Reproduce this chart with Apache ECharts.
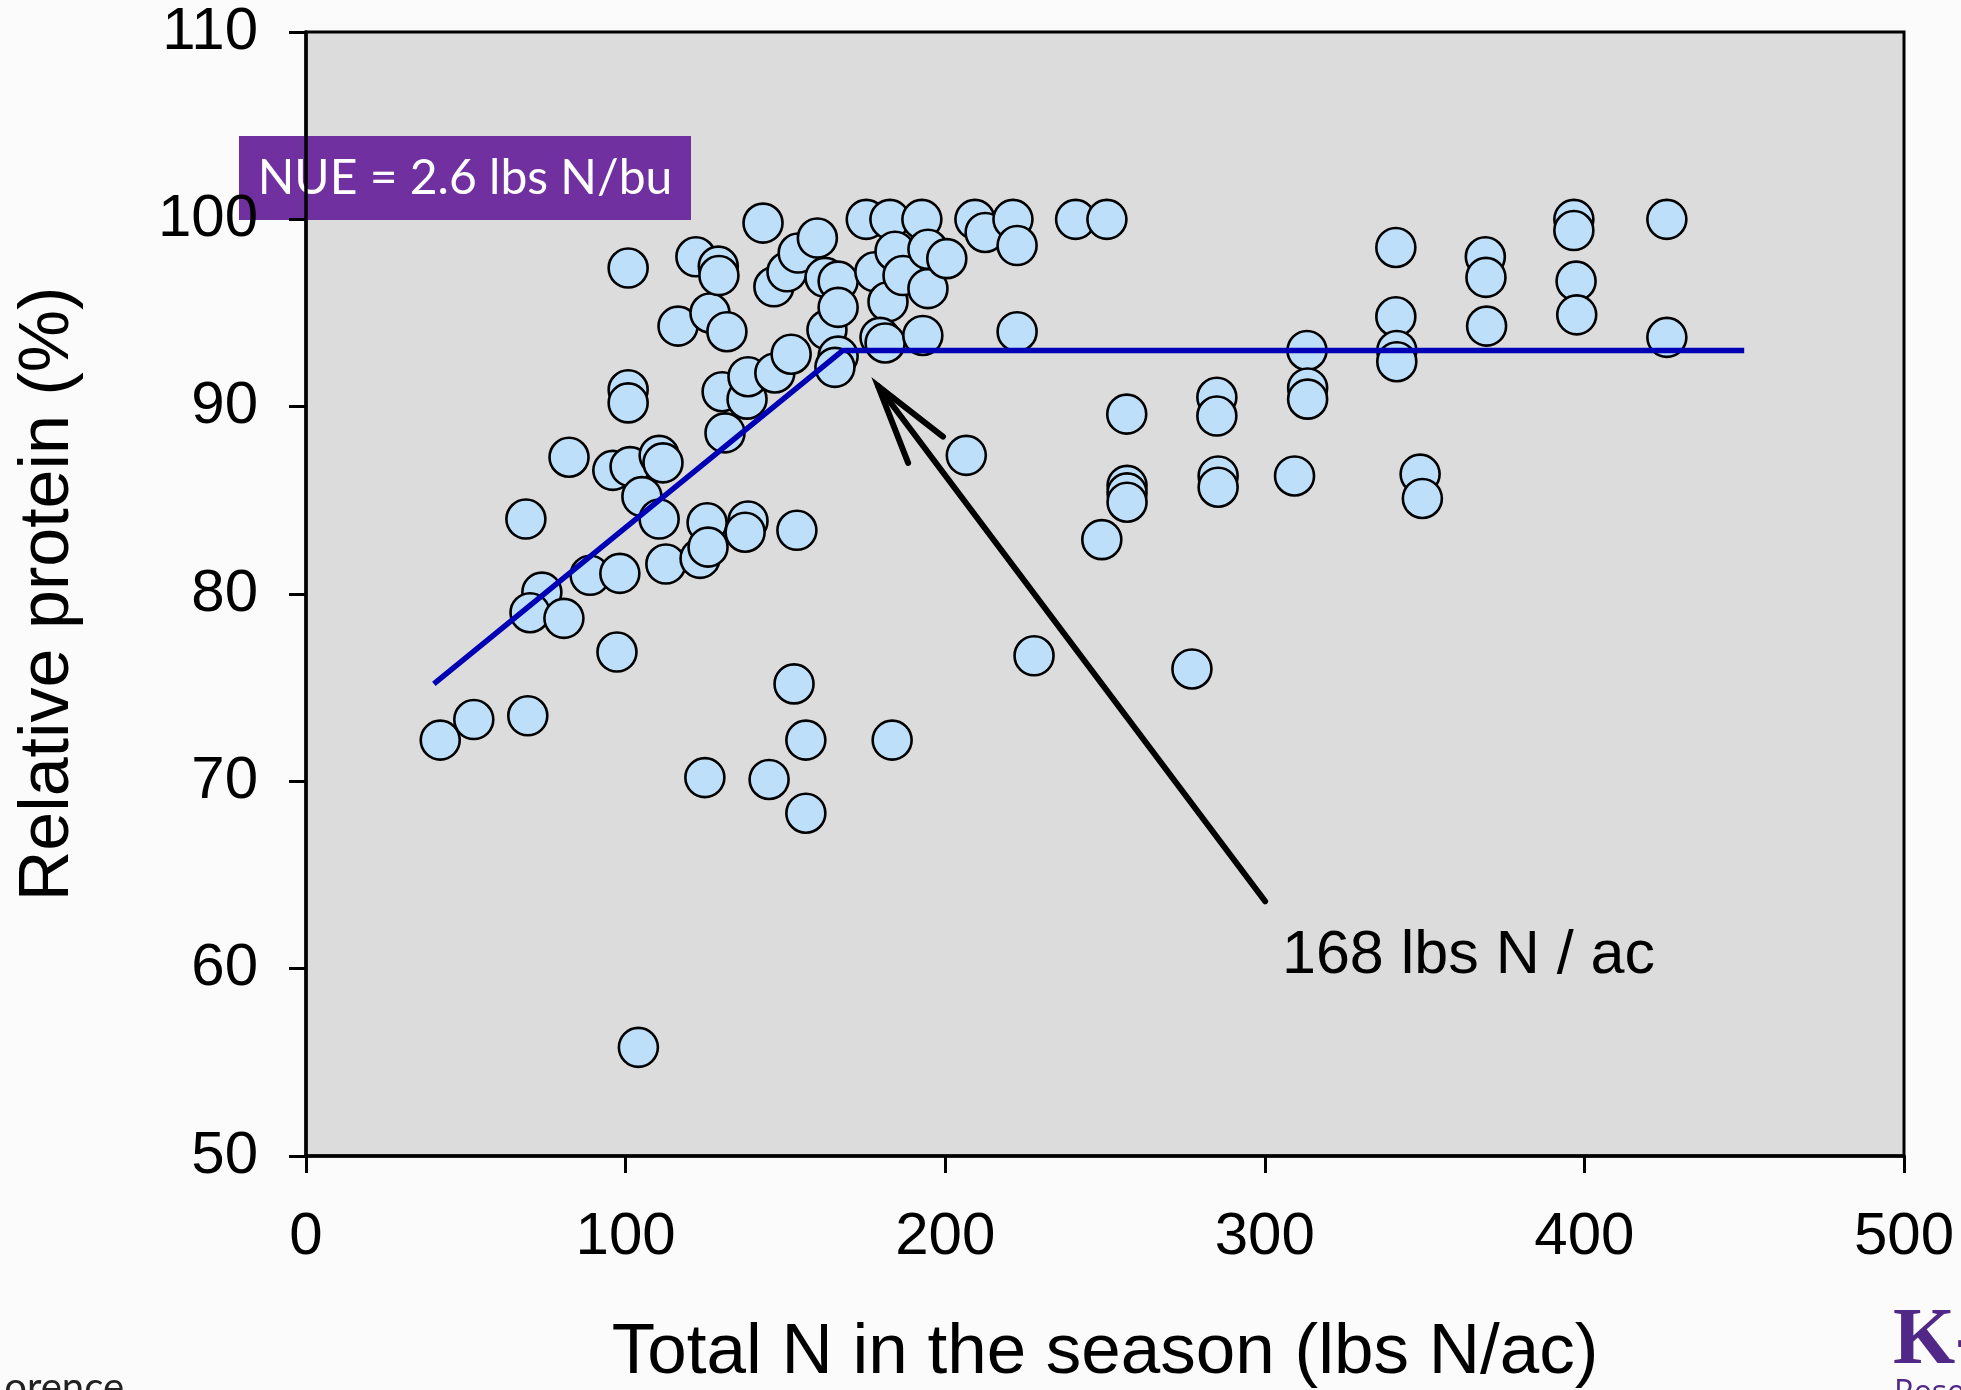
<!DOCTYPE html>
<html>
<head>
<meta charset="utf-8">
<script src="https://cdn.jsdelivr.net/npm/echarts@6/dist/echarts.min.js"></script>
<style>
  html, body { margin: 0; padding: 0; background: #fcfbfb; }
  #chart { width: 1961px; height: 1390px; }
</style>
</head>
<body>
<div id="chart"></div>
<script>
// Total N applied over the season (lbs N/ac) for each site-year
const totalN = [
  42.0, 52.5, 69.4, 68.8, 73.8, 70.1, 80.7, 82.3, 88.9, 97.3,
  98.2, 96.0, 100.8, 100.8, 100.8, 101.4, 105.1, 110.5, 111.7, 110.5,
  112.6, 104.0, 116.4, 122.0, 123.3, 124.8, 125.5, 125.8, 126.4, 129.0,
  129.2, 130.2, 131.7, 131.1, 138.0, 138.3, 138.3, 137.4, 143.0, 144.9,
  146.4, 146.7, 150.5, 151.8, 153.6, 152.7, 154.0, 156.4, 156.4, 160.0,
  162.4, 163.0, 166.5, 166.5, 166.5, 165.5, 175.3, 178.0, 182.7, 182.1,
  179.6, 181.2, 183.4, 184.3, 186.8, 192.7, 193.0, 194.6, 194.6, 200.5,
  206.6, 209.3, 212.5, 221.2, 222.5, 222.5, 227.8, 240.8, 250.6, 249.0,
  256.8, 256.9, 256.9, 256.9, 277.2, 285.0, 285.0, 285.4, 285.4, 309.3,
  313.2, 313.4, 313.4, 341.0, 341.0, 341.3, 341.3, 348.6, 349.3, 369.0,
  369.2, 369.4, 396.7, 396.7, 397.4, 397.6, 425.8, 425.8
];

// Relative protein (%) matching each entry of totalN
const relProtein = [
  72.2, 73.3, 73.5, 84.0, 80.1, 79.0, 78.7, 87.3, 81.0, 76.9,
  81.1, 86.6, 90.9, 90.2, 97.4, 86.8, 85.2, 87.4, 87.0, 84.0,
  81.6, 55.8, 94.3, 98.0, 81.9, 70.2, 83.8, 82.5, 95.0, 97.5,
  97.0, 90.8, 94.0, 88.6, 90.4, 91.6, 83.9, 83.3, 99.8, 70.1,
  96.4, 91.8, 97.2, 92.8, 83.4, 75.2, 98.2, 72.2, 68.3, 99.0,
  96.9, 94.1, 96.7, 95.3, 92.7, 92.1, 100.0, 97.2, 100.0, 95.6,
  93.7, 93.4, 72.2, 98.3, 97.0, 100.0, 93.8, 96.3, 98.4, 97.9,
  87.4, 100.0, 99.3, 100.0, 98.6, 94.0, 76.7, 100.0, 100.0, 82.9,
  89.6, 85.8, 85.4, 84.9, 76.0, 90.5, 89.5, 86.3, 85.7, 86.3,
  93.0, 91.0, 90.4, 98.5, 94.8, 93.0, 92.4, 86.4, 85.1, 98.0,
  96.9, 94.3, 100.0, 99.4, 96.7, 94.9, 100.0, 93.7
];

// Linear-plateau fit: rises until the 168 lbs N/ac join point, then flat
const fitN = [40, 168, 450];
const fitProtein = [75.2, 93.0, 93.0];

// Arrow pointing at the join point (data units)
const arrowShaft = [[300.1, 63.6], [179.0, 91.1]];
const arrowHead = [[199.3, 88.4], [179.0, 91.1], [188.4, 87.0]];

// Axis ticks
const xTicks = { min: 0, max: 500, step: 100 };
const yTicks = { min: 50, max: 110, step: 10 };

const points = totalN.map((n, i) => [n, relProtein[i]]);
const fitLine = fitN.map((n, i) => [n, fitProtein[i]]);

const AXIS_FONT = "'Liberation Sans', Arial, sans-serif";

const chart = echarts.init(document.getElementById('chart'), null, { renderer: 'canvas' });

chart.setOption({
  animation: false,
  backgroundColor: '#fcfbfb',
  grid: {
    left: 306, right: 57, top: 32, bottom: 234,
    outerBoundsMode: 'none',
    containLabel: false,
    show: true,
    backgroundColor: '#dcdcdc',
    borderColor: '#000',
    borderWidth: 3
  },
  xAxis: {
    type: 'value',
    min: xTicks.min, max: xTicks.max, interval: xTicks.step,
    name: 'Total N in the season (lbs N/ac)',
    nameLocation: 'middle',
    nameGap: 162,
    nameTextStyle: { fontSize: 71, color: '#000', fontFamily: AXIS_FONT },
    axisLine: { show: true, onZero: false, lineStyle: { color: '#000', width: 3.5 } },
    axisTick: { show: true, length: 17, lineStyle: { color: '#000', width: 3 } },
    axisLabel: { fontSize: 60, color: '#000', fontFamily: AXIS_FONT, margin: 51 },
    splitLine: { show: false }
  },
  yAxis: {
    type: 'value',
    min: yTicks.min, max: yTicks.max, interval: yTicks.step,
    name: 'Relative protein (%)',
    nameLocation: 'middle',
    nameGap: 222,
    nameRotate: 90,
    nameTextStyle: { fontSize: 70, color: '#000', fontFamily: AXIS_FONT },
    axisLine: { show: true, onZero: false, lineStyle: { color: '#000', width: 3.5 } },
    axisTick: { show: true, length: 17, lineStyle: { color: '#000', width: 3 } },
    axisLabel: { fontSize: 60, color: '#000', fontFamily: AXIS_FONT, margin: 48 },
    splitLine: { show: false }
  },
  series: [
    {
      type: 'scatter',
      data: points,
      symbol: 'circle',
      symbolSize: 39,
      itemStyle: { color: '#bddffa', borderColor: '#000', borderWidth: 2.6, opacity: 1 },
      emphasis: { disabled: true },
      z: 2
    },
    {
      type: 'line',
      data: fitLine,
      symbol: 'none',
      lineStyle: { color: '#0000b4', width: 5.5 },
      emphasis: { disabled: true },
      z: 3
    },
    {
      type: 'line',
      data: arrowShaft,
      symbol: 'none',
      lineStyle: { color: '#000', width: 6, cap: 'round' },
      emphasis: { disabled: true },
      z: 4
    },
    {
      type: 'line',
      data: arrowHead,
      symbol: 'none',
      lineStyle: { color: '#000', width: 6, cap: 'round', join: 'miter' },
      emphasis: { disabled: true },
      z: 4
    }
  ],
  graphic: [
    {
      type: 'group',
      left: 239, top: 136,
      z: 100,
      children: [
        { type: 'rect', shape: { x: 0, y: 0, width: 452, height: 84 }, style: { fill: '#7030a0' } },
        {
          type: 'text',
          style: {
            x: 226, y: 43,
            text: 'NUE = 2.6 lbs N/bu',
            fill: '#fff',
            font: "48px Lato, 'Open Sans', sans-serif",
            align: 'center', verticalAlign: 'middle'
          }
        }
      ]
    },
    {
      type: 'text',
      z: 100,
      style: {
        x: 1282, y: 956,
        text: '168 lbs N / ac',
        fill: '#000',
        font: "61px 'Liberation Sans', Arial, sans-serif",
        align: 'left', verticalAlign: 'middle'
      }
    },
    {
      type: 'text',
      z: 100,
      style: {
        x: 124, y: 1388,
        text: 'orence',
        fill: '#222',
        font: "40px Lato, 'Open Sans', sans-serif",
        align: 'right', verticalAlign: 'middle'
      }
    },
    {
      type: 'text',
      z: 100,
      style: {
        x: 1893, y: 1342,
        text: 'K-',
        fill: '#512888',
        font: "bold 80px 'Liberation Serif', 'DejaVu Serif', serif",
        align: 'left', verticalAlign: 'middle'
      }
    },
    {
      type: 'text',
      z: 100,
      style: {
        x: 1894, y: 1394,
        text: 'Research',
        fill: '#512888',
        font: "32px 'Open Sans', sans-serif",
        align: 'left', verticalAlign: 'middle'
      }
    }
  ]
});
</script>
</body>
</html>
